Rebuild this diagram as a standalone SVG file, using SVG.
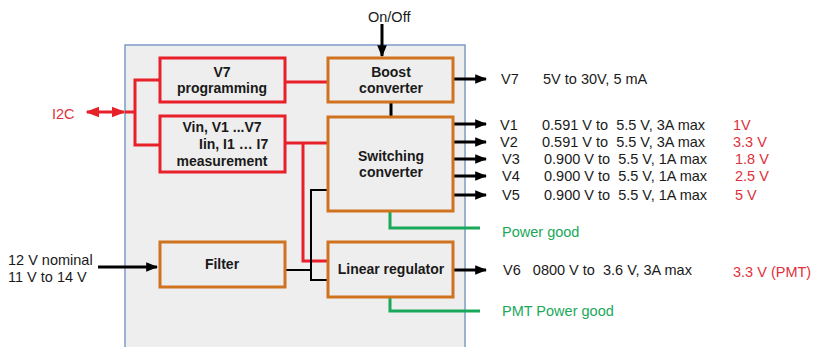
<svg xmlns="http://www.w3.org/2000/svg" width="814" height="347" viewBox="0 0 814 347">
<defs>
<style>
text{font-family:"Liberation Sans",Arial,sans-serif;font-size:14.5px;fill:#1a1a1a}
.b{font-weight:bold;text-anchor:middle;font-size:14px}
.bs{font-weight:bold;font-size:14px}
.r{fill:#e0303c}
.g{fill:#1aa85a}
.ob{fill:#eeeeee;stroke:#d0731f;stroke-width:3}
.rb{fill:#eeeeee;stroke:#e8202a;stroke-width:3}
.k{stroke:#000;stroke-width:3;fill:none}
.kt{stroke:#000;stroke-width:2;fill:none}
.rl{stroke:#e8202a;stroke-width:3;fill:none}
.gl{stroke:#1aa85a;stroke-width:3;fill:none}
</style>
<marker id="ak" viewBox="0 0 10 10" refX="9" refY="5" markerWidth="4" markerHeight="4" orient="auto" markerUnits="strokeWidth"><path d="M0,1 L10,5 L0,9 Z" fill="#000"/></marker>
<marker id="ar" viewBox="0 0 10 10" refX="9" refY="5" markerWidth="4.5" markerHeight="4.5" orient="auto-start-reverse" markerUnits="strokeWidth"><path d="M0,1 L10,5 L0,9 Z" fill="#e8202a"/></marker>
</defs>
<rect id="frame" x="125" y="45" width="340" height="310" fill="#eeeeee" stroke="#7c9bc7" stroke-width="1.5"/>
<g id="connectors">
<path class="k" d="M382,24 V56" marker-end="url(#ak)"/>
<path class="rl" d="M285,82 H328"/>
<path class="k" d="M391,102 V117"/>
<path class="rl" d="M87,112 H124" marker-start="url(#ar)" marker-end="url(#ar)"/>
<path class="rl" d="M125,112 H135 M160,80 H135 V145 H160"/>
<path class="rl" d="M285,143 H328 M303,143 V261 H328"/>
<path class="kt" d="M285,270 H311 M328,190 H311 V280 H328"/>
<path class="k" d="M98,267 H157" marker-end="url(#ak)"/>
<path class="gl" d="M390,211 V228 H480"/>
<path class="gl" d="M390,297 V311 H480"/>
<path class="k" d="M453,79 H486" marker-end="url(#ak)"/>
<path class="k" d="M453,124 H486" marker-end="url(#ak)"/>
<path class="k" d="M453,142 H486" marker-end="url(#ak)"/>
<path class="k" d="M453,159 H486" marker-end="url(#ak)"/>
<path class="k" d="M453,176 H486" marker-end="url(#ak)"/>
<path class="k" d="M453,195 H486" marker-end="url(#ak)"/>
<path class="k" d="M453,270 H486" marker-end="url(#ak)"/>
</g>
<g id="v7prog"><rect class="rb" x="160" y="58" width="125" height="44"/><text class="b" x="222" y="77">V7</text><text class="b" x="222" y="93">programming</text></g>
<g id="boost"><rect class="ob" x="328" y="58" width="125" height="44"/><text class="b" x="391" y="77">Boost</text><text class="b" x="391" y="93">converter</text></g>
<g id="meas"><rect class="rb" x="160" y="116" width="125" height="56"/><text class="b" x="222" y="132">Vin, V1 ...V7</text><text class="bs" x="199" y="149">Iin, I1 … I7</text><text class="b" x="222" y="166">measurement</text></g>
<g id="switching"><rect class="ob" x="328" y="117" width="125" height="94"/><text class="b" x="391" y="161">Switching</text><text class="b" x="391" y="177">converter</text></g>
<g id="filter"><rect class="ob" x="160" y="242" width="125" height="45"/><text class="b" x="222" y="269">Filter</text></g>
<g id="linear"><rect class="ob" x="328" y="242" width="125" height="55"/><text class="b" x="391" y="274">Linear regulator</text></g>
<text x="368" y="22">On/Off</text>
<text class="r" x="52" y="119">I2C</text>
<text x="8" y="265">12 V nominal</text>
<text x="8" y="282">11 V to 14 V</text>
<text x="501" y="84">V7</text><text x="543" y="84">5V to 30V, 5 mA</text>
<text x="500" y="130">V1</text><text x="542" y="130" xml:space="preserve">0.591 V to  5.5 V, 3A max</text><text class="r" x="733" y="130">1V</text>
<text x="500" y="147">V2</text><text x="542" y="147" xml:space="preserve">0.591 V to  5.5 V, 3A max</text><text class="r" x="733" y="147">3.3 V</text>
<text x="502" y="164">V3</text><text x="544" y="164" xml:space="preserve">0.900 V to  5.5 V, 1A max</text><text class="r" x="735" y="164">1.8 V</text>
<text x="502" y="181">V4</text><text x="544" y="181" xml:space="preserve">0.900 V to  5.5 V, 1A max</text><text class="r" x="735" y="181">2.5 V</text>
<text x="502" y="200">V5</text><text x="544" y="200" xml:space="preserve">0.900 V to  5.5 V, 1A max</text><text class="r" x="735" y="200">5 V</text>
<text class="g" x="502" y="237">Power good</text>
<text x="503" y="275" xml:space="preserve">V6   0800 V to  3.6 V, 3A max</text><text class="r" x="733" y="277">3.3 V (PMT)</text>
<text class="g" x="502" y="316">PMT Power good</text>
</svg>
